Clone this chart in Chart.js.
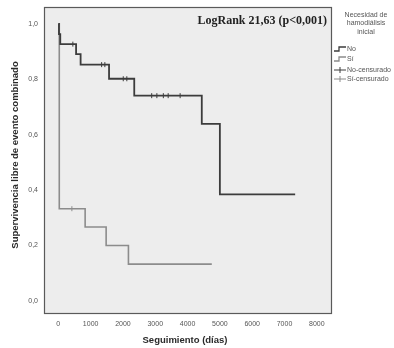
<!DOCTYPE html>
<html>
<head>
<meta charset="utf-8">
<script src="https://cdn.jsdelivr.net/npm/chart.js@4"></script>
<style>
  html, body { margin: 0; padding: 0; background: #ffffff; }
  #wrap { width: 394px; height: 348px; position: relative; }
</style>
</head>
<body>
<div id="wrap"><canvas id="km" width="394" height="348"></canvas></div>
<script>
// Kaplan-Meier estimates by need for initial haemodialysis
const noTimes = [0, 20, 60, 550, 690, 1570, 2350, 4440, 5000, 7330];
const noSurv  = [1.0, 0.963, 0.927, 0.891, 0.853, 0.802, 0.741, 0.639, 0.385, 0.385];
const siTimes = [0, 30, 830, 1480, 2170, 4750];
const siSurv  = [1.0, 0.333, 0.267, 0.200, 0.133, 0.133];

// censored observations
const noCensTimes = [450, 1340, 1440, 2010, 2120, 2890, 3050, 3250, 3400, 3770];
const noCensSurv  = [0.927, 0.853, 0.853, 0.802, 0.802, 0.741, 0.741, 0.741, 0.741, 0.741];
const siCensTimes = [420];
const siCensSurv  = [0.333];

const xTicks = [0, 1000, 2000, 3000, 4000, 5000, 6000, 7000, 8000];
const yTicks = [0.0, 0.2, 0.4, 0.6, 0.8, 1.0];

const legendTitle = ['Necesidad de', 'hamodiálisis', 'inicial'];
const legendItems = ['No', 'Sí', 'No-censurado', 'Sí-censurado'];
const annotation = 'LogRank 21,63 (p<0,001)';
const xTitle = 'Seguimiento (días)';
const yTitle = 'Supervivencia libre de evento combinado';

const darkCol = '#3c3c3c';
const lightCol = '#8c8c8c';

const toPts = (xs, ys) => xs.map((x, i) => ({ x: x, y: ys[i] }));

const decorations = {
  id: 'decorations',
  beforeDraw(chart) {
    const { ctx, chartArea: a } = chart;
    ctx.save();
    ctx.fillStyle = '#ededed';
    ctx.fillRect(a.left, a.top, a.right - a.left, a.bottom - a.top);
    ctx.restore();
  },
  afterDraw(chart) {
    const { ctx, chartArea: a } = chart;
    ctx.save();
    // frame
    ctx.strokeStyle = '#5a5a5a';
    ctx.lineWidth = 1.2;
    ctx.strokeRect(a.left + 0.5, a.top + 0.5, a.right - a.left - 1, a.bottom - a.top - 1);

    // log-rank annotation
    ctx.fillStyle = '#222222';
    ctx.font = 'bold 12px "Liberation Serif", "Times New Roman", serif';
    ctx.textAlign = 'right';
    ctx.textBaseline = 'middle';
    ctx.fillText(annotation, a.right - 5, 21);

    // axis titles
    ctx.fillStyle = '#2a2a2a';
    ctx.font = 'bold 9.5px "Liberation Sans", Arial, sans-serif';
    ctx.textAlign = 'center';
    ctx.textBaseline = 'middle';
    ctx.save();
    ctx.translate(15, 155);
    ctx.rotate(-Math.PI / 2);
    ctx.fillText(yTitle, 0, 0);
    ctx.restore();
    ctx.fillText(xTitle, 185, 340);

    // legend
    ctx.fillStyle = '#555555';
    ctx.font = '7px "Liberation Sans", Arial, sans-serif';
    ctx.textAlign = 'center';
    legendTitle.forEach((t, i) => ctx.fillText(t, 366, 15 + i * 8.5));

    const gx = 334;
    const rows = [49, 59, 70, 79];
    ctx.lineWidth = 1.3;
    // step glyphs
    [[darkCol, rows[0]], [lightCol, rows[1]]].forEach(([c, y]) => {
      ctx.strokeStyle = c;
      ctx.beginPath();
      ctx.moveTo(gx, y + 2);
      ctx.lineTo(gx + 5, y + 2);
      ctx.lineTo(gx + 5, y - 2);
      ctx.lineTo(gx + 12, y - 2);
      ctx.stroke();
    });
    // censor glyphs
    [[darkCol, rows[2]], [lightCol, rows[3]]].forEach(([c, y]) => {
      ctx.strokeStyle = c;
      ctx.lineWidth = 1;
      ctx.beginPath();
      ctx.moveTo(gx, y);
      ctx.lineTo(gx + 12, y);
      ctx.moveTo(gx + 6, y - 3);
      ctx.lineTo(gx + 6, y + 3);
      ctx.stroke();
    });
    ctx.fillStyle = '#555555';
    ctx.textAlign = 'left';
    legendItems.forEach((t, i) => ctx.fillText(t, gx + 13, rows[i]));
    ctx.restore();
  }
};

new Chart(document.getElementById('km'), {
  type: 'scatter',
  data: {
    datasets: [
      {
        label: legendItems[0],
        data: toPts(noTimes, noSurv),
        showLine: true,
        stepped: 'before',
        borderColor: darkCol,
        borderWidth: 1.8,
        pointRadius: 0,
        fill: false
      },
      {
        label: legendItems[1],
        data: toPts(siTimes, siSurv),
        showLine: true,
        stepped: 'before',
        borderColor: lightCol,
        borderWidth: 1.6,
        pointRadius: 0,
        fill: false
      },
      {
        label: legendItems[2],
        data: toPts(noCensTimes, noCensSurv),
        showLine: false,
        pointStyle: 'line',
        rotation: 90,
        pointRadius: 2.5,
        borderColor: darkCol,
        borderWidth: 1
      },
      {
        label: legendItems[3],
        data: toPts(siCensTimes, siCensSurv),
        showLine: false,
        pointStyle: 'line',
        rotation: 90,
        pointRadius: 2.5,
        borderColor: lightCol,
        borderWidth: 1
      }
    ]
  },
  options: {
    responsive: false,
    animation: false,
    layout: { padding: { top: 7, right: 62, left: 0, bottom: 0 } },
    plugins: {
      legend: { display: false },
      tooltip: { enabled: false }
    },
    scales: {
      x: {
        type: 'linear',
        min: -443,
        max: 8470,
        afterBuildTicks: s => { s.ticks = xTicks.map(v => ({ value: v })); },
        afterFit: s => { s.height = 34; },
        grid: { display: false, drawTicks: true, tickLength: 4, tickColor: '#666' },
        border: { display: false },
        ticks: {
          color: '#555',
          font: { size: 7, family: '"Liberation Sans", Arial, sans-serif' },
          padding: 2,
          maxRotation: 0,
          autoSkip: false,
          callback: v => String(v)
        }
      },
      y: {
        type: 'linear',
        min: -0.047,
        max: 1.061,
        afterBuildTicks: s => { s.ticks = yTicks.map(v => ({ value: v })); },
        afterFit: s => { s.width = 44; },
        grid: { display: false, drawTicks: true, tickLength: 4, tickColor: '#666' },
        border: { display: false },
        ticks: {
          color: '#555',
          font: { size: 7, family: '"Liberation Sans", Arial, sans-serif' },
          padding: 2,
          autoSkip: false,
          callback: v => v.toFixed(1).replace('.', ',')
        }
      }
    }
  },
  plugins: [decorations]
});
</script>
</body>
</html>
